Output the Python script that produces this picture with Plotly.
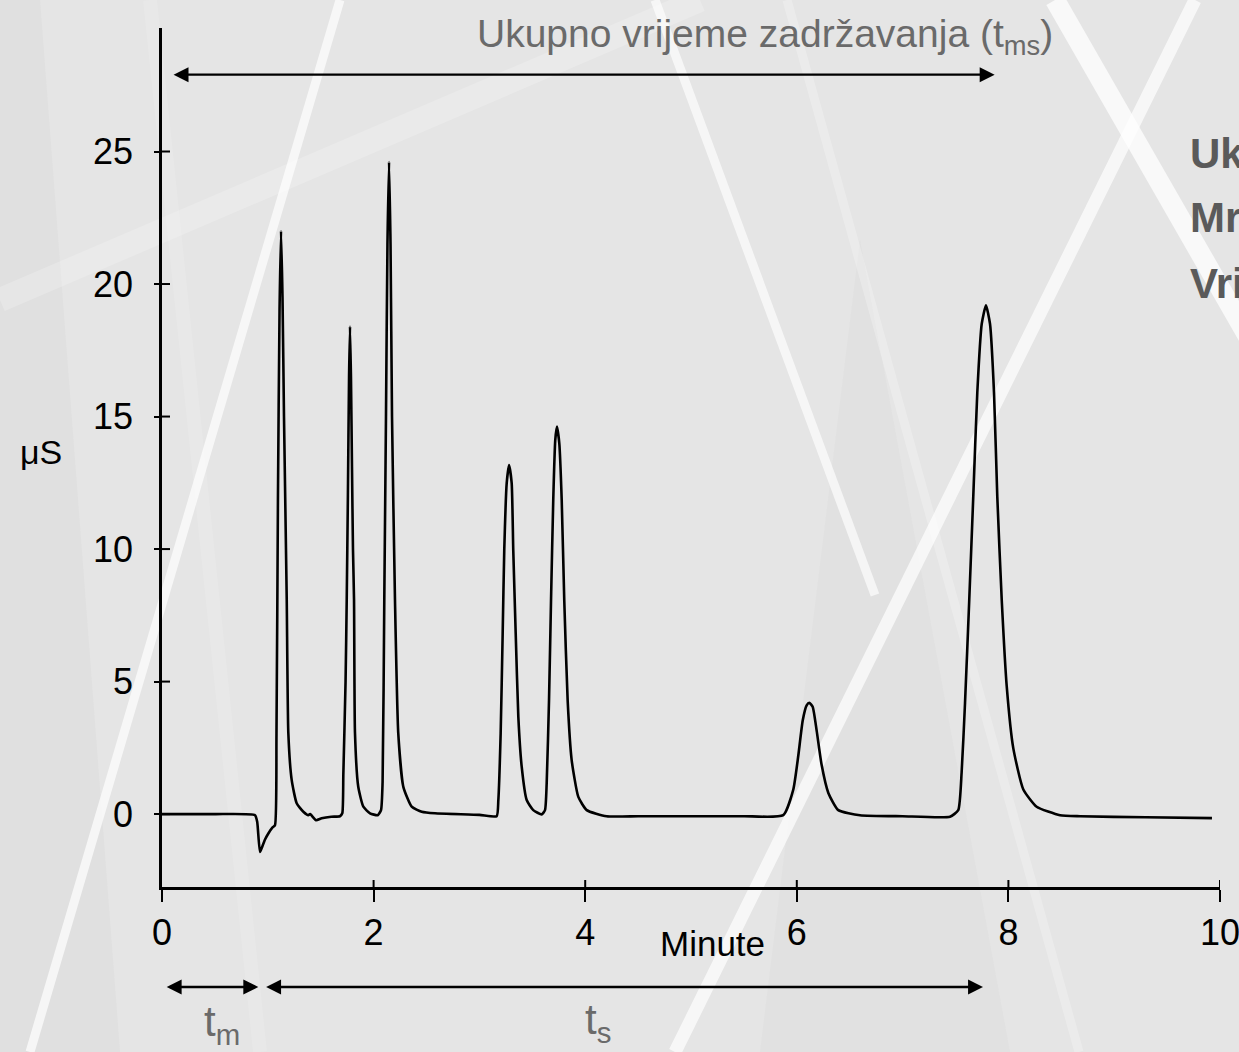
import plotly.graph_objects as go

# ---------------- data ----------------
time_min = [
    0.0, 0.5, 0.879, 0.90, 0.926, 0.95, 0.975, 1.005, 1.045, 1.068,
    1.082, 1.096, 1.111, 1.125, 1.139, 1.153, 1.179, 1.194, 1.226, 1.273,
    1.336, 1.383, 1.40, 1.456, 1.509, 1.60, 1.682, 1.704,
    1.714, 1.735, 1.746, 1.757, 1.768, 1.777, 1.786, 1.796, 1.805, 1.815,
    1.824, 1.855, 1.903, 1.966, 2.039, 2.07,
    2.085, 2.101, 2.117, 2.131, 2.146, 2.160, 2.174, 2.202, 2.233, 2.281,
    2.36, 2.455, 2.58, 3.0, 3.163,
    3.179, 3.201, 3.220, 3.235, 3.258, 3.280, 3.305, 3.320, 3.343, 3.368,
    3.400, 3.447, 3.509, 3.589, 3.620,
    3.636, 3.658, 3.677, 3.698, 3.717, 3.733, 3.755, 3.778, 3.802, 3.834,
    3.872, 3.935, 4.014, 4.203, 4.5, 5.0, 5.5, 5.872,
    5.967, 6.014, 6.056, 6.093, 6.118, 6.150, 6.188, 6.235, 6.298, 6.392,
    6.597, 7.0, 7.448,
    7.526, 7.558, 7.590, 7.630, 7.668, 7.706, 7.748, 7.788, 7.826, 7.864,
    7.895, 7.937, 7.984, 8.046, 8.141, 8.267, 8.488, 8.677, 9.3, 9.924,
]
signal_uS = [
    0.0, 0.0, -0.04, -0.3, -1.43, -1.2, -0.95, -0.73, -0.5, -0.42,
    3.0, 12.0, 19.0, 22.0, 19.5, 15.0, 8.1, 3.06, 1.28, 0.41,
    0.09, -0.04, 0.0, -0.23, -0.16, -0.1, -0.08, 0.03,
    1.5, 5.0, 8.1, 12.0, 16.5, 18.4, 16.5, 13.0, 10.0, 8.1,
    3.06, 1.03, 0.28, 0.03, -0.04, 0.15,
    1.2, 8.1, 15.0, 21.5, 24.6, 21.5, 15.0, 8.1, 3.06, 1.03,
    0.28, 0.09, 0.03, -0.03, -0.08,
    0.53, 3.06, 6.83, 9.96, 12.49, 13.17, 12.49, 9.96, 6.83, 3.67,
    1.78, 0.53, 0.15, -0.01, 0.15,
    1.17, 4.30, 8.08, 11.85, 14.11, 14.62, 14.0, 11.85, 8.08, 4.30,
    2.04, 0.65, 0.15, -0.08, -0.08, -0.08, -0.08, -0.04,
    0.93, 2.2, 3.53, 4.1, 4.2, 4.05, 3.14, 1.85, 0.8, 0.15,
    -0.04, -0.08, -0.1,
    0.15, 1.58, 4.19, 8.08, 11.98, 15.9, 18.5, 19.2, 18.5, 15.9,
    11.98, 8.08, 4.83, 2.49, 0.93, 0.28, -0.04, -0.08, -0.12, -0.15,
]
x_ticks = [0, 2, 4, 6, 8, 10]
y_ticks = [0, 5, 10, 15, 20, 25]
x_range = [0, 10]
y_range = [-2.75, 29.66]

# arrows (time spans in minutes)
total_span = [0.095, 7.87]   # t_ms arrow
total_level = 27.9           # µS level of the t_ms arrow
tm_span = [0.03, 0.91]       # t_m arrow
ts_span = [0.97, 7.76]       # t_s arrow

title_text = "Ukupno vrijeme zadržavanja (t<sub>ms</sub>)"
side_texts = ["Ukupno vrijeme zadržavanja (t<sub>ms</sub>)",
              "Mrtvo vrijeme (t<sub>m</sub>)",
              "Vrijeme zadržavanja (t<sub>s</sub>)"]

# ---------------- layout geometry ----------------
W, H = 1239, 1052
ML, MR, MT, MB = 162, 19, 28, 165
PW = W - ML - MR
PH = H - MT - MB

FONT = "Liberation Sans, Arial, sans-serif"


def px(xp):
    return (xp - ML) / PW


def py(yp):
    return (H - MB - yp) / PH


fig = go.Figure()
fig.add_trace(go.Scatter(
    x=time_min, y=signal_uS, mode="lines",
    line=dict(color="black", width=2.6, shape="spline", smoothing=0.5),
    hoverinfo="skip", showlegend=False, cliponaxis=False,
))

shapes = []


def stripe(p0, p1, width, opacity, color="white"):
    (x0, y0), (x1, y1) = p0, p1
    dx, dy = x1 - x0, y1 - y0
    ln = (dx * dx + dy * dy) ** 0.5
    nx, ny = -dy / ln * width / 2, dx / ln * width / 2
    pts = [(x0 + nx, y0 + ny), (x1 + nx, y1 + ny), (x1 - nx, y1 - ny), (x0 - nx, y0 - ny)]
    path = "M " + " L ".join(f"{px(a):.5f},{py(b):.5f}" for a, b in pts) + " Z"
    shapes.append(dict(type="path", path=path, xref="paper", yref="paper",
                       fillcolor=color, opacity=opacity, line=dict(width=0),
                       layer="below"))


# decorative background
shapes.append(dict(type="path", xref="paper", yref="paper", layer="below",
                   path=f"M {px(0)},{py(0)} L {px(40)},{py(0)} L {px(120)},{py(1052)} L {px(0)},{py(1052)} Z",
                   fillcolor="#d6d6d6", opacity=0.35, line=dict(width=0)))
shapes.append(dict(type="path", xref="paper", yref="paper", layer="below",
                   path=f"M {px(860)},{py(240)} L {px(1010)},{py(1052)} L {px(760)},{py(1052)} Z",
                   fillcolor="#d9d9d9", opacity=0.35, line=dict(width=0)))
stripe((0, 300), (700, 0), 24, 0.2)
stripe((340, 0), (30, 1052), 9, 0.7)
stripe((655, 0), (875, 595), 9, 0.65)
stripe((787, 0), (1079, 1052), 9, 0.25)
stripe((1195, 0), (675, 1052), 13, 0.7)
stripe((1055, 0), (1250, 340), 20, 0.75)
stripe((150, 0), (260, 1052), 14, 0.12)

# inside half of the crossing ticks
for xv in x_ticks[1:]:
    shapes.append(dict(type="line", xref="x", yref="paper", ysizemode="pixel",
                       yanchor=0, x0=xv, x1=xv, y0=0, y1=7,
                       line=dict(color="black", width=2)))
for yv in y_ticks:
    shapes.append(dict(type="line", xref="paper", yref="y", xsizemode="pixel",
                       xanchor=0, x0=0, x1=8, y0=yv, y1=yv,
                       line=dict(color="black", width=2)))

annotations = []


def darrow(x0, x1, yv, yref):
    annotations.append(dict(
        x=x1, y=yv, ax=x0, ay=0, xref="x", yref=yref, axref="x", ayref="pixel",
        text="", showarrow=True, arrowhead=2, startarrowhead=2,
        arrowside="end+start", arrowsize=1.3, startarrowsize=1.3,
        arrowwidth=2.3, arrowcolor="black",
    ))


darrow(total_span[0], total_span[1], total_level, "y")
darrow(tm_span[0], tm_span[1], py(987), "paper")
darrow(ts_span[0], ts_span[1], py(987), "paper")

GRAY = "#6a6a6a"
annotations.append(dict(text=title_text, x=px(765), y=py(36), xref="paper", yref="paper",
                        showarrow=False, font=dict(family=FONT, size=39, color=GRAY),
                        xanchor="center", yanchor="middle"))
annotations.append(dict(text="t<sub>m</sub>", x=px(222), y=py(1024), xref="paper", yref="paper",
                        showarrow=False, font=dict(family=FONT, size=42, color=GRAY),
                        xanchor="center", yanchor="middle"))
annotations.append(dict(text="t<sub>s</sub>", x=px(598), y=py(1022), xref="paper", yref="paper",
                        showarrow=False, font=dict(family=FONT, size=42, color=GRAY),
                        xanchor="center", yanchor="middle"))
annotations.append(dict(text="Minute", x=px(712), y=py(943), xref="paper", yref="paper",
                        showarrow=False, font=dict(family=FONT, size=35, color="black"),
                        xanchor="center", yanchor="middle"))
annotations.append(dict(text="μS", x=px(41), y=py(452), xref="paper", yref="paper",
                        showarrow=False, font=dict(family=FONT, size=34, color="black"),
                        xanchor="center", yanchor="middle"))
for i, t in enumerate(side_texts):
    annotations.append(dict(text=f"<b>{t}</b>", x=px(1188), y=py(156 + 65 * i),
                            xref="paper", yref="paper", showarrow=False,
                            font=dict(family=FONT, size=42, color="#5a5a5a"),
                            xanchor="left", yanchor="middle"))

fig.update_layout(
    width=W, height=H,
    margin=dict(l=ML, r=MR, t=MT, b=MB, pad=0, autoexpand=False),
    paper_bgcolor="#e5e5e5", plot_bgcolor="rgba(0,0,0,0)",
    showlegend=False,
    shapes=shapes, annotations=annotations,
    xaxis=dict(range=x_range, tickvals=x_ticks, ticktext=[str(v) for v in x_ticks],
               showline=True, linecolor="black", linewidth=2.5,
               ticks="outside", ticklen=12, tickwidth=2, tickcolor="black",
               showgrid=False, zeroline=False, ticklabeloverflow="allow",
               automargin=False,
               tickfont=dict(family=FONT, size=36, color="black")),
    yaxis=dict(range=y_range, tickvals=y_ticks, ticktext=[str(v) for v in y_ticks],
               showline=True, linecolor="black", linewidth=2.5,
               ticks="outside", ticklen=5, tickwidth=2, tickcolor="black",
               showgrid=False, zeroline=False, ticklabelstandoff=14,
               automargin=False,
               tickfont=dict(family=FONT, size=36, color="black")),
)

fig.write_html("out.html")
